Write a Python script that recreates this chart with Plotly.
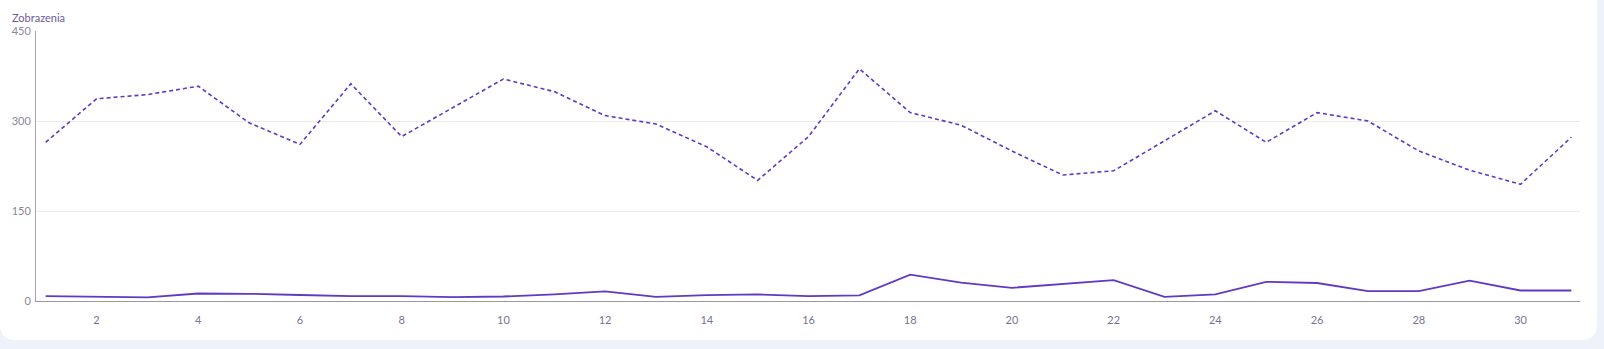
import plotly.graph_objects as go

days = list(range(1, 32))
views_prev = [264.5, 337, 344, 358, 297, 261, 362, 274, 322, 370, 349, 309, 295, 257, 201,
              274, 387, 314, 293, 250, 210, 217, 267, 317, 264.5, 314, 300, 250, 218, 194.5, 273]
views_curr = [8, 7.5, 6, 12.5, 12, 10, 8, 8, 6.5, 7.5, 11, 16, 7, 9.7, 11,
              8, 9.5, 44, 30.5, 22, 28, 34.7, 7, 11, 32, 30, 16.4, 16.4, 34, 17.5, 17.5]
y_ticks = [0, 150, 300, 450]
x_ticks = list(range(2, 31, 2))

W, H = 1604, 349
L, R, T, B = 36, 24, 31, 48
PW, PH = W - L - R, H - T - B

def px(x):
    return (x - L) / PW

def py(y):
    return 1 - (y - T) / PH

line_color = "#6139c2"

fig = go.Figure()
fig.add_trace(go.Scatter(x=days, y=views_prev, mode="lines",
                         line=dict(color=line_color, width=1.6, dash="4px,3px"),
                         showlegend=False, hoverinfo="skip"))
fig.add_trace(go.Scatter(x=days, y=views_curr, mode="lines",
                         line=dict(color=line_color, width=1.8),
                         showlegend=False, hoverinfo="skip"))

# white card with rounded corners
r = 16
x0, x1, y0, y1 = -10, 1597, -20, 340
path = (f"M {px(x0)},{py(y0)} L {px(x1 - r)},{py(y0)} "
        f"L {px(x1)},{py(y0)} L {px(x1)},{py(y1 - r)} "
        f"Q {px(x1)},{py(y1)} {px(x1 - r)},{py(y1)} "
        f"L {px(x0 + r + 10)},{py(y1)} Q {px(x0 + 10)},{py(y1)} {px(x0 + 10)},{py(y1 - r)} "
        f"L {px(x0)},{py(y0)} Z")
fig.add_shape(type="path", path=path, xref="paper", yref="paper",
              fillcolor="white", line=dict(width=0), layer="below")

fig.add_annotation(text="Zobrazenia", xref="paper", yref="paper",
                   x=px(10), y=py(17), xanchor="left", yanchor="middle",
                   showarrow=False, font=dict(size=11, color="#6b5a9c", family="Lato"))

fig.update_layout(
    width=W, height=H,
    margin=dict(l=L, r=R, t=T, b=B),
    paper_bgcolor="#eef3fa",
    plot_bgcolor="rgba(0,0,0,0)",
    font=dict(family="Lato", size=11, color="#8a879a"),
    showlegend=False,
)
fig.update_xaxes(range=[0.81, 31.17], tickvals=x_ticks, ticktext=[str(v) for v in x_ticks],
                 showgrid=False, zeroline=False, showline=True, linecolor="#9a98a0",
                 linewidth=1, ticks="outside", ticklen=9, tickcolor="rgba(0,0,0,0)",
                 tickfont=dict(color="#77738f", size=11))
fig.update_yaxes(range=[0, 450], tickvals=y_ticks, ticktext=[str(v) for v in y_ticks],
                 showgrid=True, gridcolor="#ececef", gridwidth=1, zeroline=False,
                 showline=True, linecolor="#a99fbb", linewidth=1,
                 ticks="outside", ticklen=2, tickcolor="rgba(0,0,0,0)",
                 tickfont=dict(color="#8a879a", size=11))

fig.write_html("out.html")
